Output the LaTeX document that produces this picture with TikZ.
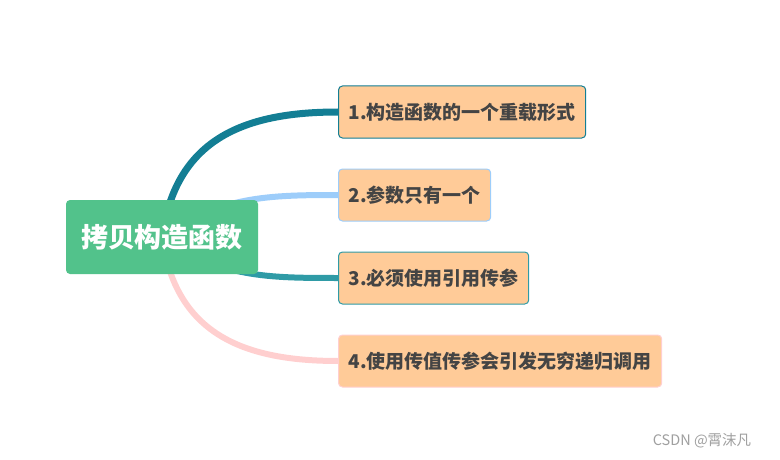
\documentclass[tikz,border=0pt]{standalone}
\usepackage{fontspec}
\usepackage{xcolor}
\usepackage{tikz}
\usetikzlibrary{positioning, backgrounds}
\newfontfamily\cjk{Noto Sans CJK SC}
\definecolor{rootgreen}{HTML}{52C28B}
\definecolor{leafpeach}{HTML}{FFCB98}
\definecolor{leaftext}{HTML}{444444}
\definecolor{darkteal}{HTML}{137E94}
\definecolor{skyblue}{HTML}{9DCDFA}
\definecolor{midteal}{HTML}{2F9BA6}
\definecolor{softpink}{HTML}{FFCFCF}

\begin{document}
\begin{tikzpicture}[x=1pt, y=1pt,
  rootbox/.style={fill=rootgreen, rounded corners=4pt, minimum width=192pt,
    minimum height=74pt, text=white, font=\cjk\bfseries\fontsize{27}{27}\selectfont},
  leaf/.style={fill=leafpeach, draw=#1, line width=1pt, rounded corners=4pt,
    minimum height=52pt, inner xsep=10pt, anchor=west, text=leaftext,
    font=\cjk\bfseries\fontsize{19}{19}\selectfont},
  branch/.style={draw=#1, line width=6pt}]
  \useasboundingbox (0,0) rectangle (780,-460);

  \node[rootbox] (root) at (162,-237) {拷贝构造函数};
  \node[leaf=darkteal] (b1) at (338,-112) {1.构造函数的一个重载形式};
  \node[leaf=skyblue] (b2) at (338,-195) {2.参数只有一个};
  \node[leaf=midteal] (b3) at (338,-278) {3.必须使用引用传参};
  \node[leaf=softpink] (b4) at (338,-361) {4.使用传值传参会引发无穷递归调用};

  % branches behind the boxes
  \begin{scope}[on background layer]
    \draw[branch=darkteal, line width=7pt] (root.center) to[out=82, in=180, looseness=1.15] (b1.west);
    \draw[branch=skyblue] (root.center) to[out=35, in=180] (b2.west);
    \draw[branch=midteal] (root.center) to[out=-35, in=180] (b3.west);
    \draw[branch=softpink] (root.center) to[out=-82, in=180, looseness=1.15] (b4.west);
  \end{scope}

  \node[text=gray!75, font=\cjk\fontsize{14.5}{14.5}\selectfont] (mark) at (702,-441) {CSDN @霄沫凡};
\end{tikzpicture}
\end{document}
